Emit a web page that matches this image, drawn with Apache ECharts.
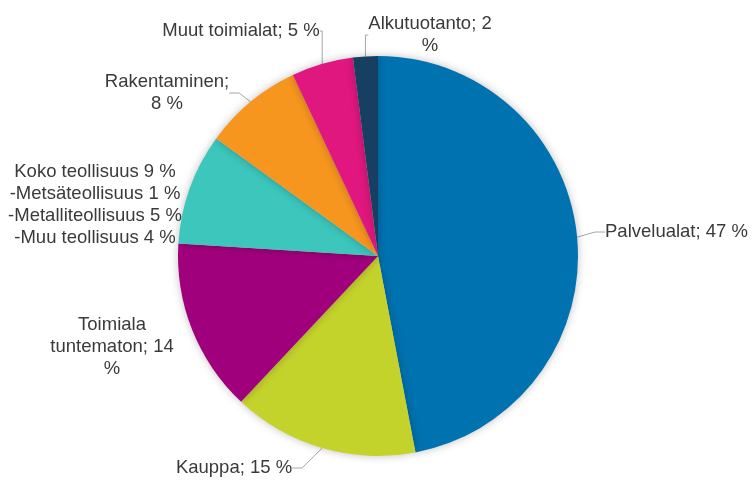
<!DOCTYPE html>
<html>
<head>
<meta charset="utf-8">
<script src="https://cdn.jsdelivr.net/npm/echarts@6/dist/echarts.min.js"></script>
<style>
html, body { margin: 0; padding: 0; background: #fff; }
#main { width: 755px; height: 488px; }
</style>
</head>
<body>
<div id="main"></div>
<script>
// slices, clockwise from 12 o'clock
var names = ['Palvelualat', 'Kauppa', 'Toimiala tuntematon', 'Koko teollisuus',
             'Rakentaminen', 'Muut toimialat', 'Alkutuotanto'];
var values = [47, 15, 14, 9, 8, 5, 2];
var labelTexts = [
    'Palvelualat; 47 %',
    'Kauppa; 15 %',
    'Toimiala\ntuntematon; 14\n%',
    'Koko teollisuus 9 %\n-Metsäteollisuus 1 %\n-Metalliteollisuus 5 %\n-Muu teollisuus 4 %',
    'Rakentaminen;\n8 %',
    'Muut toimialat; 5 %',
    'Alkutuotanto; 2\n%'
];
var colors = ['#0072b0', '#c4d32c', '#a1007c', '#3cc6bc', '#f7961f', '#e0177e', '#173f62'];

// where each label sits (text anchor), kept apart from the data
var labelPos = [
    {x: 605, y: 232, align: 'left'},
    {x: 234, y: 468, align: 'center'},
    {x: 112, y: 347, align: 'center'},
    {x: 95,  y: 205, align: 'center'},
    {x: 167, y: 93,  align: 'center'},
    {x: 241, y: 31,  align: 'center'},
    {x: 430, y: 35,  align: 'center'}
];
var showLine = [true, true, false, false, true, true, true];

var seriesData = names.map(function (n, i) {
    return {
        name: n,
        value: values[i],
        itemStyle: {color: colors[i]},
        label: {formatter: labelTexts[i]},
        labelLine: {show: showLine[i]}
    };
});

var option = {
    animation: false,
    series: [
        {
            type: 'pie',
            center: [378, 256],
            radius: 200,
            startAngle: 90,
            clockwise: true,
            data: seriesData,
            itemStyle: {
                shadowBlur: 8,
                shadowColor: 'rgba(0,0,0,0.25)'
            },
            label: {
                show: true,
                position: 'outside',
                overflow: 'none',
                color: '#3a3a3a',
                fontFamily: '"Liberation Sans", Arial, sans-serif',
                fontSize: 18.5,
                lineHeight: 22,
                align: 'center'
            },
            labelLine: {
                show: true,
                length: 10,
                length2: 10,
                lineStyle: {color: '#a6a6a6', width: 1}
            },
            labelLayout: function (params) {
                var p = labelPos[params.dataIndex];
                return {
                    x: p.x,
                    y: p.y,
                    align: p.align,
                    verticalAlign: 'middle'
                };
            }
        }
    ]
};

var myChart = echarts.init(document.getElementById('main'));
myChart.setOption(option);
</script>
</body>
</html>
